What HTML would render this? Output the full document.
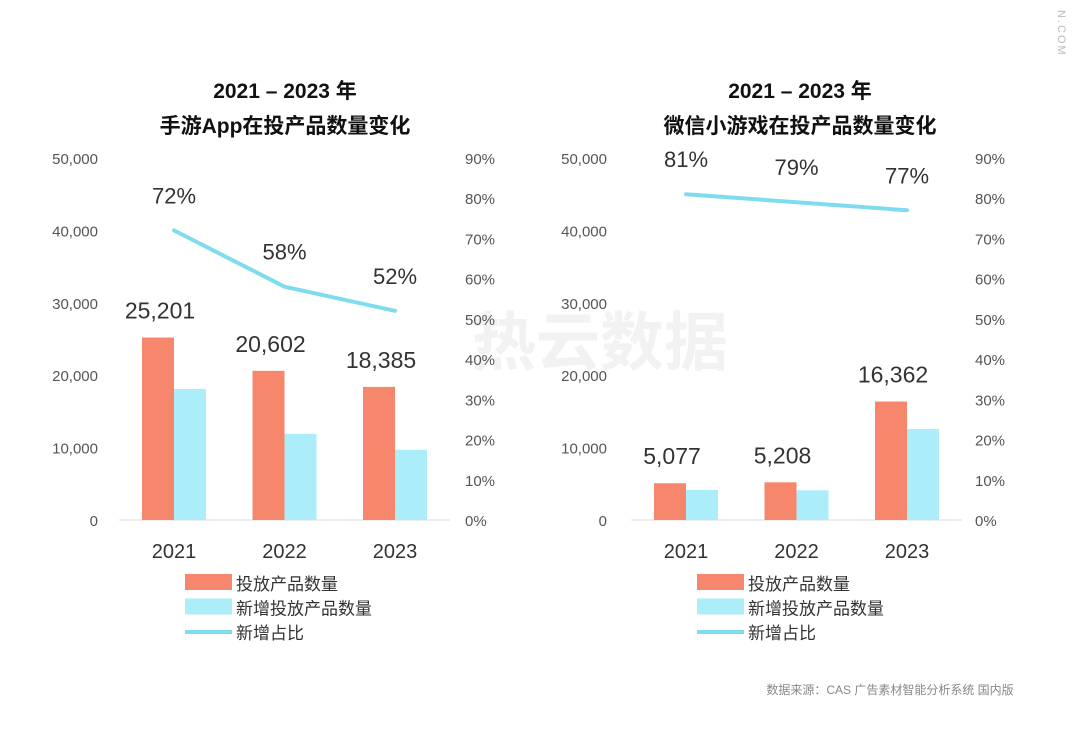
<!DOCTYPE html>
<html><head><meta charset="utf-8"><style>
body{margin:0;background:#fff;}
svg{display:block;font-family:"Liberation Sans","Noto Sans CJK SC",sans-serif;}
</style></head><body>
<svg id="s" width="1080" height="743" viewBox="0 0 1080 743">
<text x="1058" y="10" transform="rotate(90 1058 10)" font-size="11" fill="#bbb" letter-spacing="2">N.COM</text>
<text x="600" y="365" font-size="64" fill="#f2f2f2" text-anchor="middle" font-weight="bold">热云数据</text>
<text x="890" y="694" font-size="12" fill="#888" text-anchor="middle">数据来源：CAS 广告素材智能分析系统 国内版</text>
</svg>
<script>
const categories=["2021","2022","2023"];
const leftTotal=[25201,20602,18385];
const leftNew=[18100,11900,9700];
const leftRatio=[72,58,52];
const rightTotal=[5077,5208,16362];
const rightNew=[4150,4100,12570];
const rightRatio=[81,79,77];
const leftTicks=["0","10,000","20,000","30,000","40,000","50,000"];
const rightTicks=["0%","10%","20%","30%","40%","50%","60%","70%","80%","90%"];
const NS="http://www.w3.org/2000/svg";
const svg=document.getElementById('s');
function el(t,a,txt){const e=document.createElementNS(NS,t);for(const k in a)e.setAttribute(k,a[k]);if(txt!=null)e.textContent=txt;svg.appendChild(e);return e;}
const y0=520,yTop=158;
const yL=v=>y0-v/50000*(y0-yTop);
const yR=v=>y0-v/90*(y0-yTop);
function chart(p,total,nw,ratio,title2,cx){
  const xC=i=>cx+i*110.5;
  let t=el('text',{x:p.tx,y:98,'font-size':21,'font-weight':'bold','text-anchor':'middle',fill:'#111'},'2021 – 2023 年');
  
  t=el('text',{x:p.tx,y:133,'font-size':21,'font-weight':'bold','text-anchor':'middle',fill:'#111'},title2);
  
  leftTicks.forEach((s,i)=>{const e=el('text',{x:p.la,y:yL(i*10000)+6,'font-size':15,'text-anchor':'end',fill:'#555'},s);
    });
  rightTicks.forEach((s,i)=>{const e=el('text',{x:p.ra,y:yR(i*10)+6,'font-size':15,'text-anchor':'start',fill:'#555'},s);
    });
  const ax=el('line',{x1:cx-55,x2:cx+276,y1:y0,y2:y0,stroke:'#ddd','stroke-width':1});
  
  categories.forEach((c,i)=>{
    const x=xC(i);
    let b=el('rect',{x:x-32,y:yL(total[i]),width:32,height:y0-yL(total[i]),fill:'#F7876C'});
    
    b=el('rect',{x:x,y:yL(nw[i]),width:32,height:y0-yL(nw[i]),fill:'#ABEDF8'});
    
    let l=el('text',{x:x-14,y:yL(total[i])-19,'font-size':23,'text-anchor':'middle',fill:'#333'},total[i].toLocaleString('en-US'));
    
    l=el('text',{x:x,y:yR(ratio[i])-27,'font-size':22,'text-anchor':'middle',fill:'#333'},ratio[i]+'%');
    
    l=el('text',{x:x,y:558,'font-size':20,'text-anchor':'middle',fill:'#333'},c);
    
  });
  const pl=el('polyline',{points:ratio.map((r,i)=>xC(i)+','+yR(r)).join(' '),fill:'none',stroke:'#7FDCEE','stroke-width':4,'stroke-linecap':'round'});
  
  const lg=[['rect','#F7876C','投放产品数量'],['rect','#ABEDF8','新增投放产品数量'],['line','#7FDCEE','新增占比']];
  lg.forEach((g,i)=>{const yy=583+i*24.5;
    let s=g[0]=='rect'?el('rect',{x:p.lx,y:yy-9,width:47,height:16,fill:g[1]}):el('rect',{x:p.lx,y:yy-2,width:47,height:4,fill:g[1]});
    
    const tt=el('text',{x:p.lx+51,y:yy+7,'font-size':17,fill:'#333'},g[2]);
    });
}
chart({id:'left',tx:285,la:98,ra:465,lx:185},leftTotal,leftNew,leftRatio,'手游App在投产品数量变化',174);
chart({id:'right',tx:800,la:607,ra:975,lx:697},rightTotal,rightNew,rightRatio,'微信小游戏在投产品数量变化',686);
</script>
</body></html>
